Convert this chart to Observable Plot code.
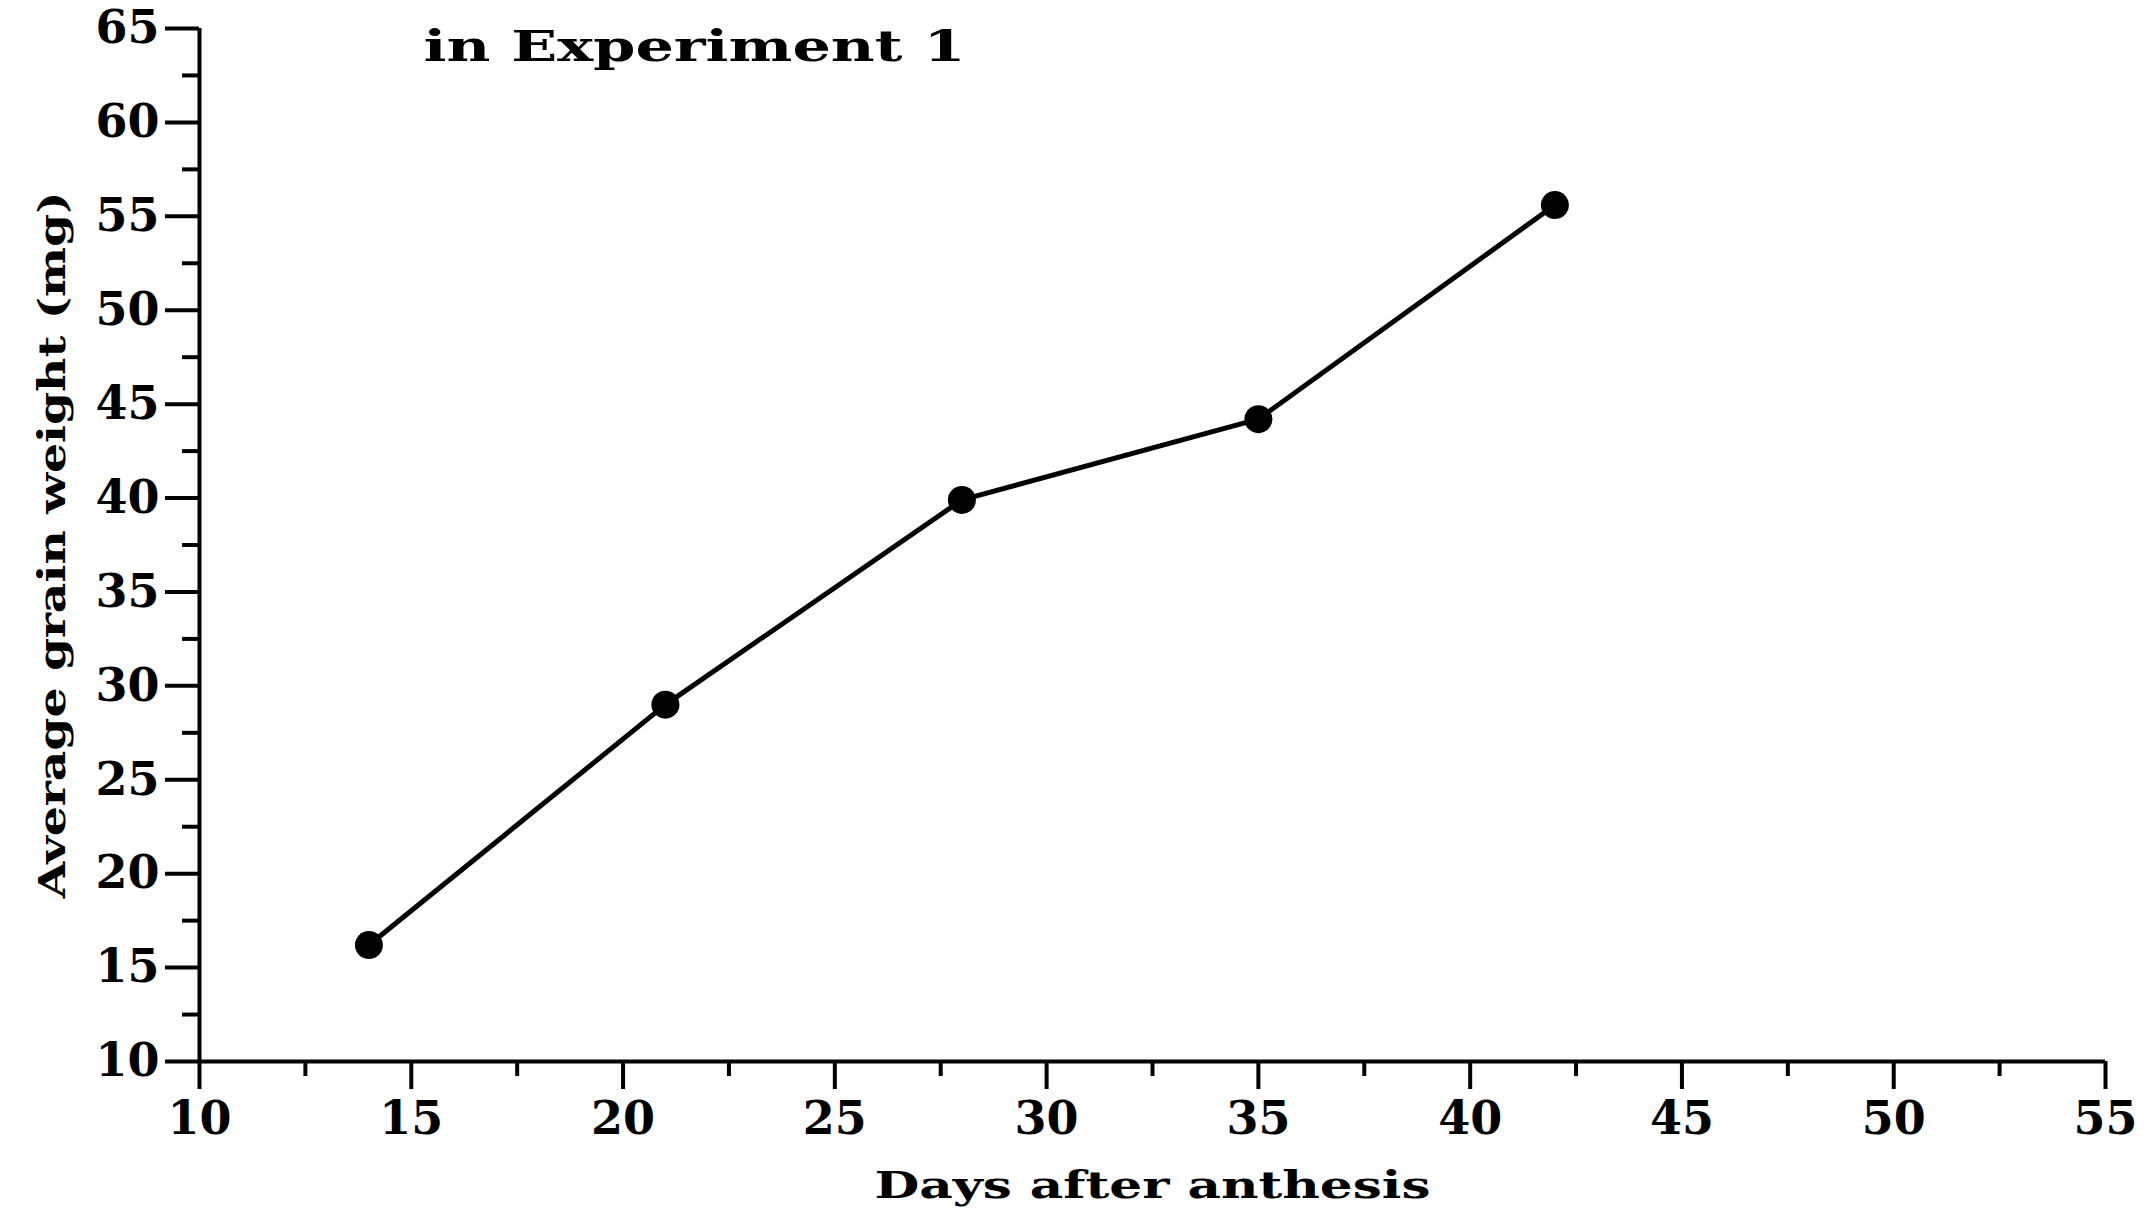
<!DOCTYPE html>
<html>
<head>
<meta charset="utf-8">
<script src="https://cdn.jsdelivr.net/npm/d3@7"></script>
<script src="https://cdn.jsdelivr.net/npm/@observablehq/plot@0.6"></script>
<style>
  html, body { margin: 0; padding: 0; background: #fff; }
  #chart { width: 2153px; height: 1214px; }
</style>
</head>
<body>
<div id="chart"></div>
<script>
const days = [14, 21, 28, 35, 42];
const weight = [16.2, 29.0, 39.9, 44.2, 55.6];
const xTicks = [10, 15, 20, 25, 30, 35, 40, 45, 50, 55];
const xMinorTicks = [12.5, 17.5, 22.5, 27.5, 32.5, 37.5, 42.5, 47.5, 52.5];
const yTicks = [10, 15, 20, 25, 30, 35, 40, 45, 50, 55, 60, 65];
const yMinorTicks = [12.5, 17.5, 22.5, 27.5, 32.5, 37.5, 42.5, 47.5, 52.5, 57.5, 62.5];
const titleText = "in Experiment 1";
const xLabel = "Days after anthesis";
const yLabel = "Average grain weight (mg)";

const data = days.map((d, i) => ({day: d, weight: weight[i]}));

const chart = Plot.plot({
  width: 2153,
  height: 1214,
  marginLeft: 199,
  marginRight: 48,
  marginTop: 28,
  marginBottom: 153,
  x: {domain: [10, 55]},
  y: {domain: [10, 65]},
  style: {fontFamily: "DejaVu Serif", fontWeight: "bold", color: "black", background: "white", overflow: "visible"},
  marks: [
    Plot.axisX(xTicks, {tickSize: 28, tickPadding: 12, fontSize: 46, strokeWidth: 4, label: null}),
    Plot.axisX(xMinorTicks, {tickSize: 15, fill: "none", strokeWidth: 4, label: null}),
    Plot.axisY(yTicks, {tickSize: 34, tickPadding: 6, fontSize: 46, strokeWidth: 4, label: null}),
    Plot.axisY(yMinorTicks, {tickSize: 17, fill: "none", strokeWidth: 4, label: null}),
    Plot.ruleX([10], {stroke: "black", strokeWidth: 4}),
    Plot.ruleY([10], {stroke: "black", strokeWidth: 4}),
    Plot.line(data, {x: "day", y: "weight", stroke: "black", strokeWidth: 5}),
    Plot.dot(data, {x: "day", y: "weight", r: 14, fill: "black", stroke: "none"}),
    Plot.text([titleText], {text: d => d, frameAnchor: "top-left", dx: 224, dy: 19, lineAnchor: "middle", textAnchor: "start", fontSize: 43, fill: "black"}),
    Plot.text([xLabel], {text: d => d, frameAnchor: "bottom", dy: 124, lineAnchor: "middle", textAnchor: "middle", fontSize: 38, fill: "black"}),
    Plot.text([yLabel], {text: d => d, frameAnchor: "left", dx: -147, rotate: -90, lineAnchor: "middle", textAnchor: "middle", fontSize: 38, fill: "black"})
  ]
});

const lengths = {[titleText]: 542, [xLabel]: 556, [yLabel]: 707};
for (const t of chart.querySelectorAll("text")) {
  const L = lengths[t.textContent];
  if (L) {
    t.setAttribute("textLength", L);
    t.setAttribute("lengthAdjust", "spacingAndGlyphs");
  }
}
document.getElementById("chart").appendChild(chart);
</script>
</body>
</html>
